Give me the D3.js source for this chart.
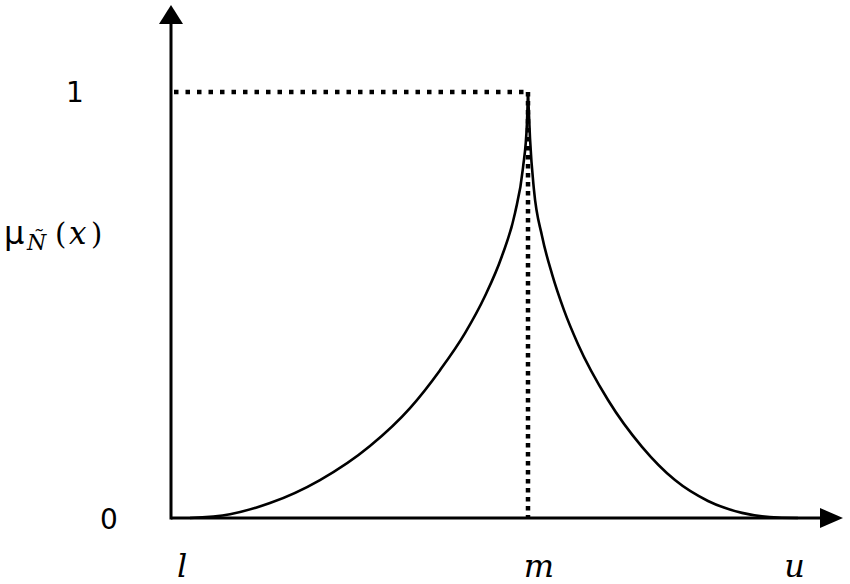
<!DOCTYPE html>
<html>
<head>
<meta charset="utf-8">
<script src="https://cdn.jsdelivr.net/npm/d3@7"></script>
<style>
  html, body { margin: 0; padding: 0; background: #fff; }
  svg { display: block; }
</style>
</head>
<body>
<div id="chart"></div>
<script>
// Membership curve (x in abstract units, l=2, m=6, u=9)
const leftX = [2.092, 2.555, 3.017, 3.595, 4.173, 4.636, 4.983, 5.272, 5.503, 5.699, 5.850, 5.942, 5.988, 6.0];
const leftY = [0.000, 0.009, 0.035, 0.089, 0.169, 0.258, 0.347, 0.434, 0.521, 0.615, 0.716, 0.822, 0.927, 1.0];
const rightX = [6.0, 6.023, 6.069, 6.162, 6.277, 6.416, 6.578, 6.925, 7.318, 7.699, 8.081, 8.474, 8.890, 9.121];
const rightY = [1.0, 0.892, 0.770, 0.662, 0.573, 0.488, 0.408, 0.277, 0.167, 0.089, 0.040, 0.012, 0.001, 0.000];

const xTickLabels = ["l", "m", "u"];
const xTickValues = [2, 6, 9];
const yTickLabels = ["0", "1"];
const yTickValues = [0, 1];
const peakX = 6;

const width = 850, height = 584;

const x = d3.scaleLinear().domain([2, 6]).range([182, 528]);
const y = d3.scaleLinear().domain([0, 1]).range([518, 92]);

const svg = d3.select('#chart')
    .append('svg')
    .attr('width', width)
    .attr('height', height);

const axisX0 = 171;          // y axis position
const axisY0 = y(0);         // x axis position

// axes
svg.append('line')
    .attr('x1', axisX0).attr('x2', 824)
    .attr('y1', axisY0).attr('y2', axisY0)
    .attr('stroke', '#000').attr('stroke-width', 3);
svg.append('line')
    .attr('x1', axisX0).attr('x2', axisX0)
    .attr('y1', axisY0 + 1.5).attr('y2', 20)
    .attr('stroke', '#000').attr('stroke-width', 3);

// arrow heads
svg.append('path')
    .attr('d', `M${axisX0},5 L${axisX0 - 12},24 L${axisX0 + 12},24 Z`)
    .attr('fill', '#000');
svg.append('path')
    .attr('d', `M843,${axisY0} L820,${axisY0 - 10} L820,${axisY0 + 10} Z`)
    .attr('fill', '#000');

// dotted guides
svg.append('line')
    .attr('x1', axisX0 + 3).attr('x2', x(peakX))
    .attr('y1', y(1)).attr('y2', y(1))
    .attr('stroke', '#000').attr('stroke-width', 4.5)
    .attr('stroke-dasharray', '4.5 7');
svg.append('line')
    .attr('x1', x(peakX)).attr('x2', x(peakX))
    .attr('y1', y(1)).attr('y2', axisY0)
    .attr('stroke', '#000').attr('stroke-width', 4.5)
    .attr('stroke-dasharray', '4.5 4.5');

// curves
const line = d3.line()
    .x(d => x(d[0]))
    .y(d => y(d[1]))
    .curve(d3.curveMonotoneX);

[[leftX, leftY], [rightX, rightY]].forEach(([xs, ys]) => {
    svg.append('path')
        .datum(xs.map((v, i) => [v, ys[i]]))
        .attr('d', line)
        .attr('fill', 'none')
        .attr('stroke', '#000')
        .attr('stroke-width', 2.6);
});

// y tick labels
const yLabelX = [109, 75];
svg.selectAll('text.ytick')
    .data(yTickValues)
    .enter()
    .append('text')
    .attr('class', 'ytick')
    .attr('x', (d, i) => yLabelX[i])
    .attr('y', d => y(d) + (d === 0 ? 3 : 2))
    .attr('text-anchor', 'middle')
    .attr('dominant-baseline', 'middle')
    .attr('font-family', 'DejaVu Sans, sans-serif')
    .attr('font-size', 28)
    .attr('fill', '#000')
    .text((d, i) => yTickLabels[i]);

// x tick labels
const xLabelOffset = [0, 11, 7];
svg.selectAll('text.xtick')
    .data(xTickValues)
    .enter()
    .append('text')
    .attr('class', 'xtick')
    .attr('x', (d, i) => x(d) + xLabelOffset[i])
    .attr('y', 577)
    .attr('text-anchor', 'middle')
    .attr('font-family', 'DejaVu Serif, serif')
    .attr('font-style', 'italic')
    .attr('font-size', 32)
    .attr('fill', '#000')
    .text((d, i) => xTickLabels[i]);

// y axis title  μ_Ñ(x)
const title = svg.append('text')
    .attr('y', 244)
    .attr('font-family', 'DejaVu Serif, serif')
    .attr('fill', '#000');
title.append('tspan')
    .attr('x', 4)
    .attr('font-family', 'DejaVu Sans, sans-serif')
    .attr('font-size', 32)
    .text('μ');
title.append('tspan')
    .attr('x', 27)
    .attr('dy', 6)
    .attr('font-style', 'italic')
    .attr('font-size', 22)
    .text('Ñ');
title.append('tspan')
    .attr('x', 55)
    .attr('dy', -6)
    .attr('font-size', 29)
    .text('(');
title.append('tspan')
    .attr('x', 69)
    .attr('font-style', 'italic')
    .attr('font-size', 31)
    .text('x');
title.append('tspan')
    .attr('x', 91)
    .attr('font-size', 29)
    .text(')');
</script>
</body>
</html>
